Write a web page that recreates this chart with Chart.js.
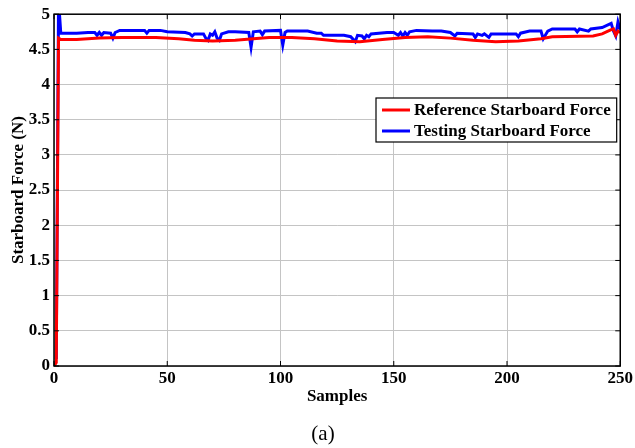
<!DOCTYPE html>
<html><head><meta charset="utf-8">
<script src="https://cdn.jsdelivr.net/npm/chart.js@4/dist/chart.umd.min.js"></script>
<style>html,body{margin:0;padding:0;background:#fff}canvas{display:block}</style>
</head><body>
<canvas id="c" width="635" height="448"></canvas>
<script>
// sample index / force values
const refX=[0,1,2,3,10,20,30,45,55,62,70,80,88,95,105,115,125,135,145,155,165,175,185,195,205,215,220,238,242,246,247,248,249,250];
const refY=[0,0.05,4.66,4.64,4.64,4.66,4.67,4.67,4.65,4.63,4.62,4.63,4.65,4.67,4.67,4.65,4.62,4.61,4.64,4.67,4.68,4.66,4.63,4.61,4.62,4.65,4.68,4.69,4.72,4.78,4.79,4.70,4.76,4.74];
const testX=[1,2,3,10,15,18,19,20,21,22,25,26,27,29,40,41,42,47,50,58,60,61,62,66,67,68,69,70,71,72,73,74,77,80,86,87,88,91,92,93,100,101,102,103,112,116,118,119,128,131,133,134,136,137,138,139,140,147,150,152,153,154,155,156,157,160,167,171,175,177,178,185,186,187,189,190,192,193,200,204,205,206,210,215,216,218,220,230,231,232,236,237,242,246,247,248,249,250];
const testY=[0.1,5.2,4.73,4.73,4.74,4.74,4.70,4.74,4.70,4.74,4.73,4.66,4.74,4.77,4.77,4.73,4.77,4.77,4.75,4.74,4.72,4.69,4.72,4.72,4.66,4.63,4.72,4.70,4.75,4.66,4.63,4.72,4.75,4.75,4.74,4.53,4.75,4.76,4.71,4.76,4.77,4.56,4.74,4.76,4.76,4.73,4.73,4.70,4.70,4.68,4.61,4.70,4.69,4.65,4.70,4.68,4.72,4.74,4.74,4.70,4.74,4.69,4.74,4.70,4.75,4.77,4.76,4.76,4.74,4.69,4.73,4.72,4.67,4.72,4.70,4.72,4.67,4.72,4.72,4.72,4.68,4.73,4.76,4.76,4.65,4.76,4.79,4.79,4.75,4.79,4.76,4.79,4.81,4.87,4.76,4.69,4.89,4.78];
const labels=['Reference Starboard Force','Testing Starboard Force'];
const colors=['#ff0000','#0000ff'];
const caption='(a)';

const serif="'Liberation Serif','Times New Roman',serif";
const bold17={family:serif,size:17,weight:'bold'};
const pts=(xs,ys)=>xs.map((x,i)=>({x,y:ys[i]}));

const boxPlugin={id:'box',afterDraw(chart){
 const {ctx,chartArea:a,scales:{x,y}}=chart;
 ctx.save();
 ctx.strokeStyle='#000';ctx.lineWidth=1.5;
 ctx.strokeRect(a.left,a.top,a.right-a.left,a.bottom-a.top);
 ctx.lineWidth=1;ctx.beginPath();
 x.ticks.forEach(t=>{const p=x.getPixelForValue(t.value);ctx.moveTo(p,a.bottom);ctx.lineTo(p,a.bottom-5);ctx.moveTo(p,a.top);ctx.lineTo(p,a.top+5);});
 y.ticks.forEach(t=>{const p=y.getPixelForValue(t.value);ctx.moveTo(a.left,p);ctx.lineTo(a.left+5,p);ctx.moveTo(a.right,p);ctx.lineTo(a.right-5,p);});
 ctx.stroke();
 // legend box inside the plot
 ctx.font='bold 17px '+serif;
 const w=Math.max(...chart.data.datasets.map(d=>ctx.measureText(d.label).width));
 const bx=376,by=98,tx=bx+38,bw=tx-bx+w+6,bh=44;
 ctx.fillStyle='#fff';ctx.fillRect(bx,by,bw,bh);
 ctx.lineWidth=1.2;ctx.strokeStyle='#000';ctx.strokeRect(bx,by,bw,bh);
 chart.data.datasets.forEach((d,i)=>{
  const yy=by+12+i*21;
  ctx.strokeStyle=d.borderColor;ctx.lineWidth=3;
  ctx.beginPath();ctx.moveTo(bx+6,yy);ctx.lineTo(bx+34,yy);ctx.stroke();
  ctx.fillStyle='#000';ctx.textBaseline='middle';ctx.textAlign='left';
  ctx.fillText(d.label,tx,yy+1);
 });
 // caption under the figure
 ctx.font='21px '+serif;ctx.textAlign='center';ctx.fillStyle='#000';
 ctx.fillText(caption,323,434);
 ctx.restore();
}};

new Chart(document.getElementById('c'),{
 type:'line',
 data:{datasets:[
  {label:labels[0],data:pts(refX,refY),borderColor:colors[0],borderWidth:3,pointRadius:0,tension:0,clip:0},
  {label:labels[1],data:pts(testX,testY),borderColor:colors[1],borderWidth:3,pointRadius:0,tension:0,clip:0}
 ]},
 options:{
  responsive:false,animation:false,
  layout:{padding:{left:0,right:14,top:14,bottom:32}},
  plugins:{legend:{display:false},tooltip:{enabled:false}},
  scales:{
   x:{type:'linear',min:0,max:250,
    ticks:{stepSize:50,color:'#000',font:bold17,padding:2,maxRotation:0},
    grid:{color:'#c4c4c4',drawTicks:false},border:{display:false},
    title:{display:true,text:'Samples',color:'#000',font:bold17,padding:{top:0,bottom:9}},
    afterFit(s){s.height=50}},
   y:{min:0,max:5,
    ticks:{stepSize:0.5,color:'#000',font:bold17,padding:4,callback:v=>String(+v)},
    grid:{color:'#c4c4c4',drawTicks:false},border:{display:false},
    title:{display:true,text:'Starboard Force (N)',color:'#000',font:bold17,padding:{top:8,bottom:0}},
    afterFit(s){s.width=54}}
  }
 },
 plugins:[boxPlugin]
});
</script>
</body></html>
